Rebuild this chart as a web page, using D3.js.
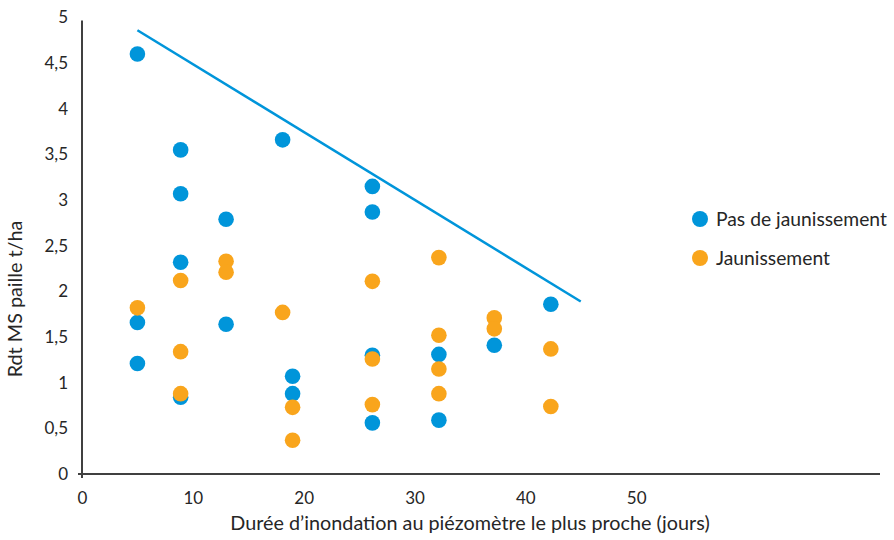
<!DOCTYPE html>
<html><head><meta charset="utf-8">
<script src="https://cdn.jsdelivr.net/npm/d3@7"></script>
<style>body{margin:0;background:#fff}svg{display:block}text{font-family:Lato,"Open Sans",sans-serif;fill:#262626}</style>
</head><body><svg id="c" width="894" height="540"></svg>
<script>
const xTicks = [0, 10, 20, 30, 40, 50];
const yTicks = [0, 0.5, 1, 1.5, 2, 2.5, 3, 3.5, 4, 4.5, 5];
const seriesNames = ["Pas de jaunissement", "Jaunissement"];
const blueX = [5, 8.9, 8.9, 13, 8.9, 5, 13, 5, 8.9, 18.1, 19, 19, 26.2, 26.2, 26.2, 26.2, 32.2, 32.2, 37.2, 42.3];
const blueY = [4.6, 3.55, 3.07, 2.79, 2.32, 1.66, 1.64, 1.21, 0.84, 3.66, 1.07, 0.88, 3.15, 2.87, 1.30, 0.56, 1.31, 0.59, 1.41, 1.86];
const orangeX = [5, 8.9, 8.9, 8.9, 13, 13, 18.1, 19, 19, 26.2, 26.2, 26.2, 32.2, 32.2, 32.2, 32.2, 37.2, 37.2, 42.3, 42.3];
const orangeY = [1.82, 2.12, 1.34, 0.88, 2.33, 2.21, 1.77, 0.73, 0.37, 2.11, 1.26, 0.76, 2.37, 1.52, 1.15, 0.88, 1.71, 1.59, 1.37, 0.74];
const lineX = [5, 45];
const lineY = [4.86, 1.89];
const colors = ["#0095DA", "#F9A51C"];

const svg = d3.select("#c");
const x = d3.scaleLinear().domain([0, 72]).range([82, 880]);
const y = d3.scaleLinear().domain([0, 5]).range([474, 17.5]);

// axes
const xAxis = svg.append("g").attr("transform", `translate(0,${y(0)})`)
  .call(d3.axisBottom(x).tickValues(xTicks).tickSize(0).tickPadding(18).tickFormat(d3.format("d")));
const yAxis = svg.append("g").attr("transform", `translate(${x(0)},0)`)
  .call(d3.axisLeft(y).tickValues(yTicks).tickSize(0).tickPadding(14).tickFormat(d => String(d).replace(".", ",")));
[xAxis, yAxis].forEach(g => {
  g.select(".domain").attr("stroke", "#404040").attr("stroke-width", 2);
  g.selectAll("text").attr("font-size", 17).attr("font-family", "Lato").attr("fill", "#262626");
});
xAxis.select(".domain").attr("d", `M${x(0)-4},0H${x(72)}`);
yAxis.select(".domain").attr("d", `M0,${y(0)+4}V${y(5)+3}`);

// trend line
svg.append("line")
  .attr("x1", x(lineX[0])).attr("y1", y(lineY[0]))
  .attr("x2", x(lineX[1])).attr("y2", y(lineY[1]))
  .attr("stroke", colors[0]).attr("stroke-width", 2.5);

// points
const blue = blueX.map((v, i) => [v, blueY[i]]);
const orange = orangeX.map((v, i) => [v, orangeY[i]]);
[blue, orange].forEach((pts, k) => {
  svg.append("g").selectAll("circle").data(pts).join("circle")
    .attr("cx", d => x(d[0])).attr("cy", d => y(d[1])).attr("r", 7.8)
    .attr("fill", colors[k]);
});

// legend
const leg = svg.append("g");
seriesNames.forEach((n, i) => {
  const cy = 219 + i * 39;
  leg.append("circle").attr("cx", 700).attr("cy", cy).attr("r", 8).attr("fill", colors[i]);
  leg.append("text").attr("x", 716).attr("y", cy).attr("dy", "0.35em")
    .attr("font-size", 19.3).text(n);
});

// axis titles
svg.append("text").attr("x", 470).attr("y", 523).attr("dy", "0.35em")
  .attr("text-anchor", "middle").attr("font-size", 19.8)
  .text("Durée d’inondation au piézomètre le plus proche (jours)");
svg.append("text").attr("transform", "translate(15,299) rotate(-90)")
  .attr("dy", "0.35em").attr("text-anchor", "middle").attr("font-size", 19.8)
  .text("Rdt MS paille t/ha");
</script></body></html>
